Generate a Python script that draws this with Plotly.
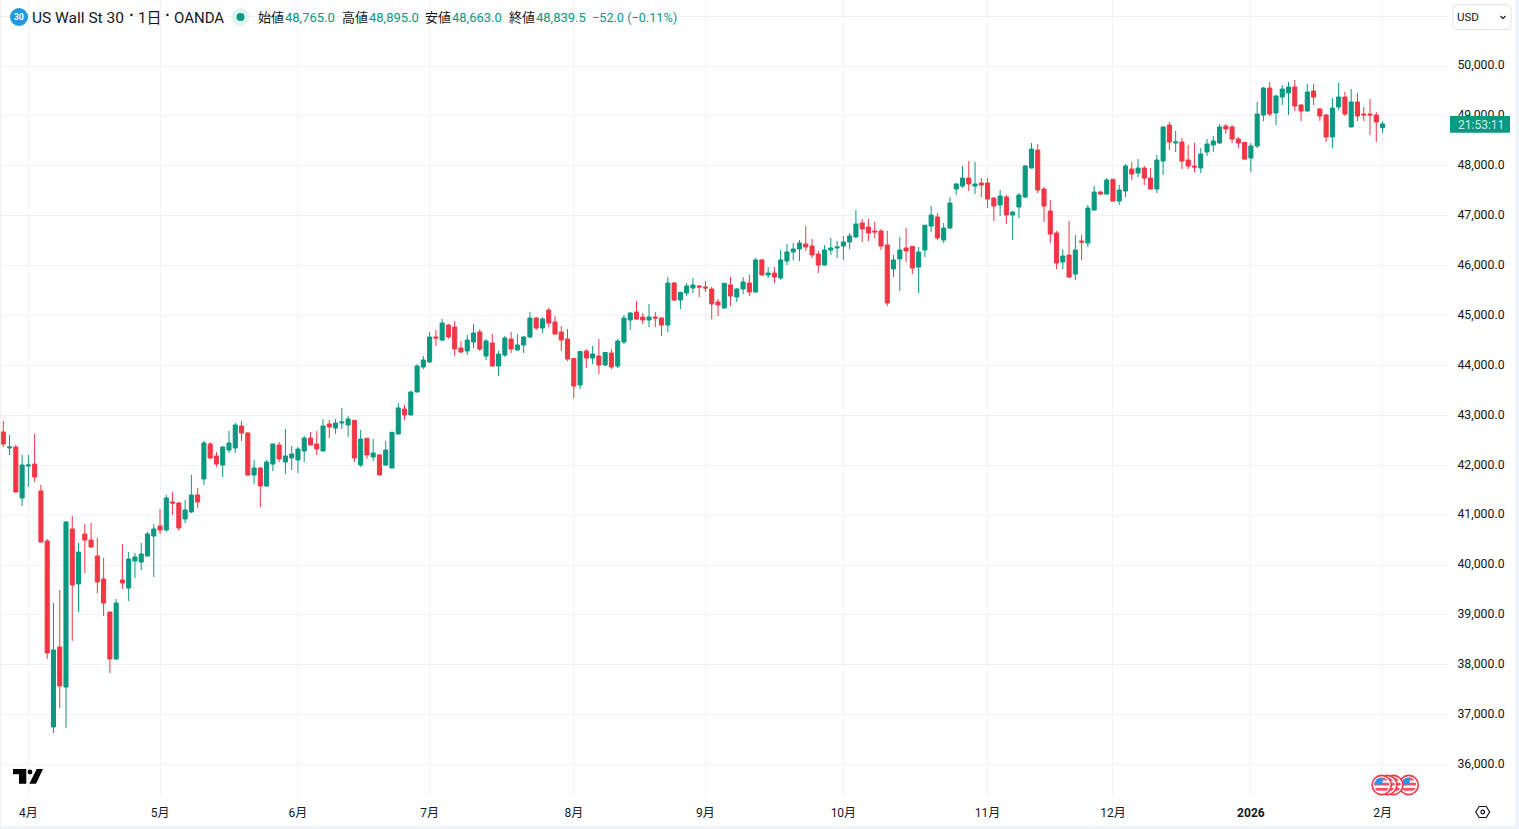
import math
import plotly.graph_objects as go

opens = [
 42666,42345,42365,41343,41984,42024,41483,40481,36754,38357,
 37555,40722,39620,40622,40501,40181,39720,39058,38117,39700,
 39539,40081,40060,40181,40581,40782,40702,41263,41243,40922,
 41063,41403,41724,42425,42185,42004,42305,42345,42786,42646,
 41804,41944,41584,42024,42405,42064,42145,42105,42285,42545,
 42425,42285,42826,42746,42846,42806,42900,42004,42540,42165,
 42205,42004,41944,42626,43127,43006,43467,43968,44068,44570,
 44509,44810,44770,44349,44289,44469,44669,44188,44449,43988,
 44208,44529,44308,44409,44569,44950,44749,45110,44870,44669,
 44529,44140,43607,44288,44148,44188,44008,44248,43988,44469,
 44910,45070,44970,44910,44970,44950,44809,45651,45310,45451,
 45551,45591,45572,45531,45271,45151,45612,45371,45531,45652,
 45471,46113,45812,45852,45752,46093,46273,46333,46433,46393,
 46233,46012,46313,46353,46393,46473,46574,46854,46774,46694,
 46694,46413,45932,46133,46353,46385,45972,46313,46793,46974,
 46513,46753,47535,47595,47755,47595,47655,47655,47354,47214,
 47374,47014,47174,47374,47955,48316,47535,47094,46653,46072,
 46212,45831,46493,46453,47114,47475,47434,47730,47294,47495,
 47935,47855,47955,47755,47535,48096,48818,48457,48477,48116,
 47996,47956,48277,48417,48457,48798,48778,48537,48470,48156,
 48397,49018,49559,49058,49379,49459,49579,49219,49098,49499,
 49138,49018,48577,49179,49379,48778,49279,49038,49038,49018,
 48765]
highs = [
 42886,42606,42405,42205,42205,42626,41604,40521,39239,39499,
 40882,40982,40441,40822,40842,40541,40141,39058,39319,40421,
 40261,40241,40441,40662,40822,41123,41403,41463,41263,41303,
 41804,41543,42485,42465,42265,42385,42686,42846,42886,42666,
 42105,41964,42105,42430,42465,42726,42385,42365,42586,42666,
 42686,42926,42906,42926,43147,42986,42906,42706,42545,42525,
 42225,42485,42666,43247,43207,43487,44028,44189,44670,44710,
 44930,44830,44890,44489,44610,44829,44729,44529,44629,44288,
 44589,44669,44629,44589,45070,44970,44970,45150,44990,44789,
 44729,44148,44288,44328,44389,44529,44268,44328,44529,45010,
 45070,45290,45050,45230,45070,44970,45771,45671,45471,45651,
 45751,45611,45692,45572,45331,45652,45772,45551,45772,45812,
 46153,46133,45972,45972,46313,46433,46453,46513,46794,46533,
 46293,46413,46554,46493,46594,46654,47115,46934,46934,46874,
 46734,46694,46213,46574,46754,46393,46373,46814,47194,47054,
 46853,47374,47655,47996,48096,48076,47755,47755,47374,47515,
 47414,47094,47454,48016,48456,48436,47575,47314,46693,46332,
 46893,46613,46613,47214,47595,47495,47755,47735,47615,48036,
 48076,48136,47996,47955,48216,48798,48878,48698,48557,48417,
 48457,48357,48537,48597,48838,48838,48818,48577,48477,48457,
 49279,49579,49680,49419,49619,49680,49720,49239,49639,49639,
 49158,49038,49359,49659,49479,49539,49459,49179,49339,49078,
 48895]
lows = [
 42365,42205,41450,41183,41563,41664,40450,38117,36634,37135,
 36734,38477,39058,39840,40350,39439,38978,37836,38097,39519,
 39279,39740,39900,40170,39760,40622,40662,41002,40682,40842,
 41043,41143,41604,42125,41964,41764,42245,42245,42485,41784,
 41624,41163,41570,41884,42064,41824,41904,41844,42064,42400,
 42205,42280,42545,42626,42726,42566,42064,41964,42125,42085,
 41800,41984,41940,42620,42906,43000,43460,43928,44048,44389,
 44489,44529,44189,44249,44209,44348,44288,44108,43985,43787,
 44168,44248,44300,44248,44549,44709,44649,44769,44609,44288,
 44088,43346,43527,43948,44028,43827,43988,43928,43948,44429,
 44709,44910,44829,44769,44769,44589,44669,45290,45130,45391,
 45451,45371,45471,44930,44990,45145,45191,45271,45431,45391,
 45465,45805,45752,45652,45712,46012,46113,46093,46293,46153,
 45852,45992,46213,46153,46113,46333,46554,46473,46493,46554,
 46313,45191,45772,45491,46073,45832,45451,46173,46673,46513,
 46453,46745,47414,47555,47495,47434,47374,47154,46893,46994,
 46833,46513,46953,47354,47950,47454,46873,46453,45931,45931,
 45751,45711,46112,46372,47105,47414,47430,47290,47214,47374,
 47715,47775,47615,47530,47454,47816,48317,48277,47936,47936,
 47876,47856,48197,48277,48437,48637,48457,48357,48116,47876,
 48357,48898,48998,48818,49219,49018,49098,48898,49090,49219,
 48898,48477,48357,49118,48998,48770,48898,48898,48617,48477,
 48663]
closes = [
 42425,42365,41463,42004,42004,41764,40461,38237,38297,37576,
 40862,39600,40261,40501,40361,39660,39239,38117,39239,39640,
 40121,40161,40221,40622,40722,40702,41343,41243,40742,41103,
 41403,41263,42445,42145,42024,42365,42445,42806,42646,41804,
 41944,41584,42064,42425,42125,42185,42225,42325,42545,42405,
 42325,42786,42766,42846,42866,42926,42145,42525,42205,42245,
 41804,42305,42660,43147,43006,43467,43988,44109,44570,44550,
 44850,44570,44329,44269,44509,44649,44328,44489,43988,44228,
 44549,44328,44409,44569,44950,44749,44930,44849,44629,44509,
 44128,43587,44280,44148,44228,44008,44260,43968,44489,44950,
 45050,44930,44910,44970,44950,44809,45651,45310,45465,45591,
 45611,45571,45551,45231,45211,45645,45391,45531,45672,45471,
 46113,45812,45852,45772,46113,46273,46333,46453,46373,46213,
 46012,46313,46353,46373,46473,46594,46834,46734,46654,46674,
 46393,45251,46113,46313,46293,45952,46273,46810,47014,46553,
 46753,47254,47635,47755,47635,47635,47615,47334,47194,47394,
 47014,47074,47414,47996,48336,47515,47194,46633,46052,46192,
 45771,46312,46473,47154,47475,47434,47715,47294,47515,47996,
 47835,47955,47755,47535,48116,48778,48477,48477,48096,47996,
 47976,48237,48437,48497,48778,48738,48537,48457,48136,48397,
 49038,49559,49038,49399,49539,49579,49199,49098,49479,49379,
 48998,48577,49158,49379,49038,49279,48998,49018,49018,48878,
 48839.5]
bars = list(range(len(closes)))

month_bars = [4, 25, 47, 68, 91, 112, 134, 157, 177, 199, 220]
month_labels = ["4月", "5月", "6月", "7月", "8月", "9月", "10月", "11月", "12月", "<b>2026</b>", "2月"]
price_ticks = list(range(36000, 52000, 1000))
price_labels = [f"{p:,.1f}" for p in price_ticks[:-1]] + [""]

GREEN = "#089981"
RED = "#F23645"
INK = "#131722"
GRID = "#F3F3F4"
FONT = "Roboto, 'Noto Sans CJK JP', sans-serif"
W, H = 1519, 829
PW, PH = 1449, 795

def fx(p): return p / PW
def fy(p): return 1 - p / PH

def poly(points, fill, line=None, lw=0):
    d = "M " + " L ".join(f"{fx(x):.5f},{fy(y):.5f}" for x, y in points) + " Z"
    return dict(type="path", xref="paper", yref="paper", path=d, fillcolor=fill,
                line=dict(color=line or fill, width=lw), layer="above")

def rect(x0, y0, x1, y1, fill, line=None, lw=0):
    return dict(type="rect", xref="paper", yref="paper", x0=fx(x0), x1=fx(x1), y0=fy(y0), y1=fy(y1),
                fillcolor=fill, line=dict(color=line or fill, width=lw), layer="above")

def circ(cx, cy, r, fill, line=None, lw=0):
    return dict(type="circle", xref="paper", yref="paper", x0=fx(cx-r), x1=fx(cx+r), y0=fy(cy-r), y1=fy(cy+r),
                fillcolor=fill, line=dict(color=line or fill, width=lw), layer="above")

def ann(x, y, text, color=INK, size=13, anchor="left", family=FONT):
    return dict(xref="paper", yref="paper", x=fx(x), y=fy(y), text=text, showarrow=False,
                xanchor=anchor, yanchor="middle", font=dict(color=color, size=size, family=family),
                borderpad=0, borderwidth=0)

def band(cx, cy, r, y0, y1, x_max=None):
    # slice of a disc between two heights, as a polygon
    pts_r, pts_l = [], []
    n = 8
    for k in range(n + 1):
        y = y0 + (y1 - y0) * k / n
        hw = math.sqrt(max(r*r - (y - cy)**2, 0))
        pts_r.append((cx + hw if x_max is None else min(cx + hw, x_max), y))
        pts_l.append((cx - hw, y))
    return pts_r + pts_l[::-1]

def flag(cx, cy):
    out = [circ(cx, cy, 9.6, "#FFFFFF", RED, 1.6)]
    r = 7.4
    for y0, y1 in [(cy - 7.4, cy - 4.6), (cy - 2.2, cy + 0.6), (cy + 3.0, cy + 5.8)]:
        out.append(poly(band(cx, cy, r, y0, y1), "#F7525F"))
    out.append(poly(band(cx, cy, r, cy - 7.4, cy - 0.6, x_max=cx + 1), "#2196F3"))
    return out

shapes = []
# page edges
shapes.append(rect(1515, 0, 1519, 829, "#F0F3FA"))
shapes.append(rect(0, 826, 1519, 829, "#F0F3FA"))
shapes.append(rect(0, 0, 0.8, 829, "#ECEDEF"))
# last price tag
shapes.append(rect(1450, 116, 1510, 132.7, GREEN))
# currency button
shapes.append(dict(type="path", xref="paper", yref="paper", layer="above", fillcolor="#FFFFFF",
                   line=dict(color="#E0E3EB", width=1),
                   path=(f"M {fx(1457):.5f},{fy(4.5):.5f} L {fx(1507):.5f},{fy(4.5):.5f} "
                         f"Q {fx(1511):.5f},{fy(4.5):.5f} {fx(1511):.5f},{fy(8.5):.5f} "
                         f"L {fx(1511):.5f},{fy(25.5):.5f} Q {fx(1511):.5f},{fy(29.5):.5f} {fx(1507):.5f},{fy(29.5):.5f} "
                         f"L {fx(1457):.5f},{fy(29.5):.5f} Q {fx(1453):.5f},{fy(29.5):.5f} {fx(1453):.5f},{fy(25.5):.5f} "
                         f"L {fx(1453):.5f},{fy(8.5):.5f} Q {fx(1453):.5f},{fy(4.5):.5f} {fx(1457):.5f},{fy(4.5):.5f} Z")))
shapes.append(dict(type="path", xref="paper", yref="paper", layer="above",
                   line=dict(color=INK, width=1.2),
                   path=f"M {fx(1500.5):.5f},{fy(16):.5f} L {fx(1503):.5f},{fy(18.5):.5f} L {fx(1505.5):.5f},{fy(16):.5f}"))
# header badges
shapes.append(circ(19, 17, 9, "#1E9BE0"))
shapes.append(circ(240.5, 17, 9, "#DFF3EF"))
shapes.append(circ(240.5, 17, 4, GREEN))
# logo
shapes.append(poly([(13, 769), (26.3, 769), (26.3, 783.7), (19, 783.7), (19, 774.3), (13, 774.3)], "#000000"))
shapes.append(circ(30, 772, 2.4, "#000000"))
shapes.append(poly([(36.7, 769), (43, 769), (36, 783.7), (29.3, 783.7)], "#000000"))
# event flags, right to left
for cx in [1408.7, 1393.3, 1387.3, 1381.7]:
    shapes += flag(cx, 785)
# settings icon
c = (1482.7, 812)
shapes.append(poly([(c[0]-7, c[1]), (c[0]-3.5, c[1]-5.5), (c[0]+3.5, c[1]-5.5), (c[0]+7, c[1]), (c[0]+3.5, c[1]+5.5), (c[0]-3.5, c[1]+5.5)],
                   "#FFFFFF", INK, 1.2))
shapes.append(circ(c[0], c[1], 1.8, "#FFFFFF", INK, 1.2))

annotations = [
    ann(19, 17, "<b>30</b>", "#FFFFFF", 8.5, "center"),
    ann(32, 18, "US Wall St 30", INK, 15.5),
    ann(131, 15, "<b>·</b>", INK, 16, "center"),
    ann(138, 18, "1日", INK, 15),
    ann(167, 15, "<b>·</b>", INK, 16, "center"),
    ann(174, 18, "OANDA", INK, 15),
    ann(258, 18, "始値", INK, 13),
    ann(285, 18, "48,765.0", GREEN, 13),
    ann(342, 18, "高値", INK, 13),
    ann(369, 18, "48,895.0", GREEN, 13),
    ann(425, 18, "安値", INK, 13),
    ann(452, 18, "48,663.0", GREEN, 13),
    ann(509, 18, "終値", INK, 13),
    ann(536, 18, "48,839.5", GREEN, 13),
    ann(592, 18, "−52.0 (−0.11%)", GREEN, 12.7),
    ann(1457, 17, "USD", INK, 11.5),
    ann(1481, 125, "21:53:11", "#CDEBE5", 12, "center"),
]

fig = go.Figure(go.Candlestick(
    x=bars, open=opens, high=highs, low=lows, close=closes,
    increasing=dict(line=dict(color=GREEN, width=1), fillcolor=GREEN),
    decreasing=dict(line=dict(color=RED, width=1), fillcolor=RED),
    whiskerwidth=0,
))
fig.update_layout(
    width=W, height=H, autosize=False,
    margin=dict(l=0, r=W - PW, t=0, b=H - PH, pad=0),
    paper_bgcolor="#FFFFFF", plot_bgcolor="#FFFFFF",
    showlegend=False, boxgap=0.35, boxgroupgap=0,
    font=dict(family=FONT, color=INK, size=12),
    shapes=shapes, annotations=annotations,
    xaxis=dict(range=[-0.526, 230.6], rangeslider=dict(visible=False),
               tickmode="array", tickvals=month_bars, ticktext=month_labels,
               showgrid=True, gridcolor=GRID, gridwidth=1, zeroline=False, showline=False,
               ticks="outside", ticklen=7, tickcolor="rgba(0,0,0,0)",
               tickangle=0, tickfont=dict(size=12, color=INK, family=FONT)),
    yaxis=dict(range=[35391, 51323], side="right",
               tickmode="array", tickvals=price_ticks, ticktext=price_labels,
               showgrid=True, gridcolor=GRID, gridwidth=1, zeroline=False, showline=False,
               ticks="outside", ticklen=5, tickcolor="rgba(0,0,0,0)", ticklabelshift=-1,
               tickfont=dict(size=12.3, color=INK, family=FONT)),
)
fig.write_html("out.html", config=dict(displayModeBar=False),
               post_script="document.body.style.margin='0';document.body.style.overflow='hidden';")
